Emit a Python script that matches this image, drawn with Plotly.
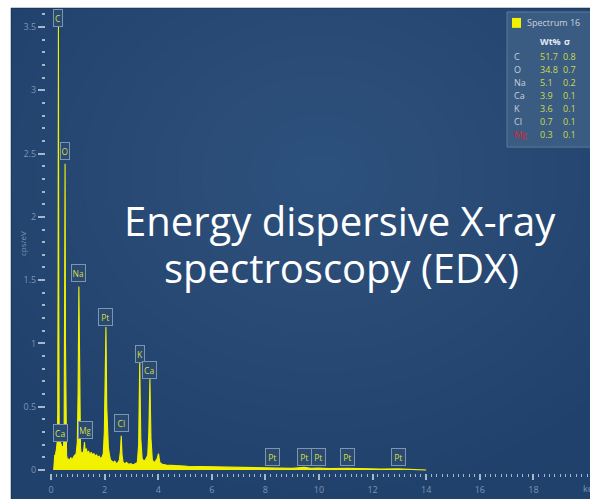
import plotly.graph_objects as go

# ---------------- data ----------------
energy_kev = [0.10, 0.12, 0.14, 0.16, 0.18, 0.20, 0.23, 0.25, 0.265, 0.277, 0.29, 0.305, 0.32, 0.335,
              0.345, 0.36, 0.38, 0.40, 0.43, 0.46, 0.49, 0.51, 0.525, 0.54, 0.56, 0.58, 0.62, 0.66,
              0.70, 0.74, 0.78, 0.82, 0.86, 0.90, 0.94, 0.98, 1.01, 1.04, 1.07, 1.10, 1.13, 1.16,
              1.19, 1.22, 1.25, 1.28, 1.32, 1.35, 1.40, 1.45, 1.50, 1.55, 1.60, 1.65, 1.70, 1.75,
              1.80, 1.85, 1.90, 1.95, 1.99, 2.02, 2.05, 2.08, 2.11, 2.14, 2.18, 2.22, 2.27, 2.32,
              2.38, 2.44, 2.50, 2.55, 2.59, 2.62, 2.65, 2.69, 2.75, 2.82, 2.90, 2.98, 3.06, 3.14,
              3.22, 3.27, 3.31, 3.35, 3.40, 3.46, 3.52, 3.57, 3.61, 3.65, 3.69, 3.73, 3.78, 3.84,
              3.90, 3.96, 4.01, 4.06, 4.15, 4.30, 4.50, 4.80, 5.10, 5.50, 6.00, 6.50, 7.00, 7.50,
              8.00, 8.28, 8.60, 9.00, 9.44, 9.70, 9.97, 10.40, 11.07, 11.60, 12.30, 12.95, 13.50, 14.00]
counts_cps_ev = [0.0, 0.06, 0.12, 0.10, 0.14, 0.16, 0.22, 0.45, 1.6, 3.50, 1.4, 0.35, 0.20, 0.22,
                 0.24, 0.17, 0.21, 0.15, 0.19, 0.16, 0.30, 1.1, 2.42, 1.0, 0.30, 0.12, 0.07, 0.09,
                 0.07, 0.10, 0.08, 0.10, 0.11, 0.12, 0.13, 0.22, 0.60, 1.45, 0.55, 0.18, 0.12, 0.14,
                 0.13, 0.16, 0.22, 0.14, 0.17, 0.13, 0.15, 0.12, 0.14, 0.12, 0.13, 0.11, 0.12, 0.10,
                 0.11, 0.09, 0.10, 0.13, 0.30, 0.70, 1.13, 0.50, 0.25, 0.18, 0.12, 0.08, 0.07, 0.06,
                 0.07, 0.05, 0.06, 0.08, 0.15, 0.27, 0.12, 0.06, 0.05, 0.06, 0.045, 0.05, 0.04, 0.05,
                 0.06, 0.20, 0.86, 0.25, 0.09, 0.07, 0.08, 0.10, 0.12, 0.30, 0.72, 0.25, 0.08, 0.06,
                 0.07, 0.09, 0.13, 0.06, 0.045, 0.04, 0.035, 0.033, 0.03, 0.028, 0.025, 0.022, 0.02, 0.018,
                 0.016, 0.018, 0.014, 0.013, 0.022, 0.014, 0.016, 0.011, 0.014, 0.009, 0.008, 0.009, 0.006, 0.0]

peak_labels = ["C", "O", "Ca", "Na", "Mg", "Pt", "Cl", "K", "Ca", "Pt", "Pt", "Pt", "Pt", "Pt"]
peak_label_kev = [0.277, 0.525, 0.34, 1.041, 1.27, 2.05, 2.62, 3.31, 3.69, 8.28, 9.44, 9.97, 11.07, 12.95]
peak_label_level = [3.57, 2.52, 0.29, 1.56, 0.32, 1.21, 0.37, 0.92, 0.79, 0.10, 0.10, 0.10, 0.10, 0.10]

x_tick_vals = [0, 2, 4, 6, 8, 10, 12, 14, 16, 18]
x_tick_text = ["0", "2", "4", "6", "8", "10", "12", "14", "16", "18"]
y_tick_vals = [0, 0.5, 1, 1.5, 2, 2.5, 3, 3.5]
y_tick_text = ["0", "0.5", "1", "1.5", "2", "2.5", "3", "3.5"]

legend_title = "Spectrum 16"
legend_elements = ["C", "O", "Na", "Ca", "K", "Cl", "Mg"]
legend_wt = ["51.7", "34.8", "5.1", "3.9", "3.6", "0.7", "0.3"]
legend_sigma = ["0.8", "0.7", "0.2", "0.1", "0.1", "0.1", "0.1"]

title_lines = ["Energy dispersive X-ray", "spectroscopy (EDX)"]

# ---------------- layout helpers ----------------
W, H = 590, 499
L, R, T, B = 46, 3, 8, 23
PW = W - L - R
PH = H - T - B


def px(x):
    return (x - L) / PW


def py(y):
    return (H - B - y) / PH


fig = go.Figure()
fig.add_trace(go.Scatter(
    x=energy_kev, y=counts_cps_ev, mode="lines",
    line=dict(color="#f2f200", width=1.1),
    fill="tozeroy", fillcolor="#f2f200", hoverinfo="skip", showlegend=False))

shapes = []
# blue panel
shapes.append(dict(type="rect", xref="paper", yref="paper", x0=px(11), x1=px(595), y0=py(505), y1=py(8),
                   fillcolor="#1f416c", line=dict(color="#16304f", width=1), layer="below"))
# soft radial glow (many faint layers for a smooth gradient)
cx, cy = 320, 175
for k in range(16):
    f = 1 - k / 16
    rx, ry = 380 * f, 320 * f
    shapes.append(dict(type="circle", xref="paper", yref="paper",
                       x0=px(cx - rx), x1=px(cx + rx), y0=py(cy + ry), y1=py(cy - ry),
                       fillcolor="rgba(74,130,187,0.022)", line=dict(width=0), layer="below"))
# white margins over glow
shapes.append(dict(type="rect", xref="paper", yref="paper", x0=px(-5), x1=px(600), y0=py(7.5), y1=py(-5),
                   fillcolor="white", line=dict(width=0), layer="below"))
shapes.append(dict(type="rect", xref="paper", yref="paper", x0=px(-5), x1=px(10.5), y0=py(505), y1=py(-5),
                   fillcolor="white", line=dict(width=0), layer="below"))
# legend panel
shapes.append(dict(type="rect", xref="paper", yref="paper", x0=px(507), x1=px(596), y0=py(148), y1=py(12),
                   fillcolor="#3b5c82", line=dict(color="#5b7ba0", width=1), layer="below"))
shapes.append(dict(type="rect", xref="paper", yref="paper", x0=px(512), x1=px(521), y0=py(28), y1=py(18),
                   fillcolor="#f2f200", line=dict(width=0), layer="below"))

annotations = []
# peak labels
for name, ek, lv in zip(peak_labels, peak_label_kev, peak_label_level):
    annotations.append(dict(x=ek, y=lv, xref="x", yref="y", text=name, showarrow=False,
                            font=dict(family="Open Sans", size=8.5, color="#d6df48"),
                            bgcolor="#2a4a70", bordercolor="#7a95b6", borderwidth=1, borderpad=1,
                            width=4.8 * len(name) + 1, height=14, xanchor="center", yanchor="middle"))

# legend text
annotations.append(dict(x=px(525), y=py(23), xref="paper", yref="paper", text=legend_title, showarrow=False,
                        xanchor="left", yanchor="middle", font=dict(family="Open Sans", size=9, color="#c8d2de")))
annotations.append(dict(x=px(538), y=py(42), xref="paper", yref="paper", text="<b>Wt%</b>", showarrow=False,
                        xanchor="left", yanchor="middle", font=dict(family="Open Sans", size=9, color="#e4eaf1")))
annotations.append(dict(x=px(562), y=py(42), xref="paper", yref="paper", text="<b>σ</b>", showarrow=False,
                        xanchor="left", yanchor="middle", font=dict(family="Open Sans", size=9, color="#e4eaf1")))
for i, (el, wt, sg) in enumerate(zip(legend_elements, legend_wt, legend_sigma)):
    yy = py(57 + 13 * i)
    el_col = "#d9243a" if el == "Mg" else "#c5cfdc"
    annotations.append(dict(x=px(512), y=yy, xref="paper", yref="paper", text=el, showarrow=False,
                            xanchor="left", yanchor="middle", font=dict(family="Open Sans", size=9, color=el_col)))
    annotations.append(dict(x=px(538), y=yy, xref="paper", yref="paper", text=wt, showarrow=False,
                            xanchor="left", yanchor="middle", font=dict(family="Open Sans", size=9, color="#ccd94a")))
    annotations.append(dict(x=px(561), y=yy, xref="paper", yref="paper", text=sg, showarrow=False,
                            xanchor="left", yanchor="middle", font=dict(family="Open Sans", size=9, color="#ccd94a")))

# axis captions
annotations.append(dict(x=px(15), y=py(245), xref="paper", yref="paper", text="cps/eV", showarrow=False,
                        textangle=-90, font=dict(family="Open Sans", size=8, color="#7d95b6")))
annotations.append(dict(x=px(581), y=py(492), xref="paper", yref="paper", text="keV", showarrow=False,
                        xanchor="left", yanchor="middle", font=dict(family="Open Sans", size=9, color="#7d95b6")))

# overlay title text
annotations.append(dict(x=px(340), y=py(222), xref="paper", yref="paper", text=title_lines[0], showarrow=False,
                        xanchor="center", yanchor="middle",
                        font=dict(family="Open Sans", size=40, color="white", weight=500)))
annotations.append(dict(x=px(341), y=py(269), xref="paper", yref="paper", text=title_lines[1], showarrow=False,
                        xanchor="center", yanchor="middle",
                        font=dict(family="Open Sans", size=40, color="white", weight=500)))

fig.update_layout(
    width=W, height=H, margin=dict(l=L, r=R, t=T, b=B),
    paper_bgcolor="white", plot_bgcolor="rgba(0,0,0,0)",
    shapes=shapes, annotations=annotations, showlegend=False,
    xaxis=dict(range=[-0.187, 20], tickmode="array", tickvals=x_tick_vals, ticktext=x_tick_text,
               ticks="outside", ticklen=6, tickwidth=1.5, tickcolor="#a3b7cf", ticklabelstandoff=2,
               tickfont=dict(family="Open Sans", size=9, color="#7d95b6"),
               minor=dict(dtick=0.2, tick0=0, ticks="outside", ticklen=3, tickwidth=1, tickcolor="#a3b7cf"),
               showgrid=False, zeroline=False, showline=False, fixedrange=True),
    yaxis=dict(range=[-0.0235, 3.65], tickmode="array", tickvals=y_tick_vals, ticktext=y_tick_text,
               ticks="outside", ticklen=7, tickwidth=1.5, tickcolor="#a3b7cf",
               tickfont=dict(family="Open Sans", size=9, color="#7d95b6"),
               minor=dict(dtick=0.1, tick0=0, ticks="outside", ticklen=3, tickwidth=2, tickcolor="#a3b7cf"),
               showgrid=False, zeroline=False, showline=False, fixedrange=True),
)

fig.write_html("out.html", config={"displayModeBar": False},
               post_script="document.body.style.margin='0';document.body.style.overflow='hidden';")
